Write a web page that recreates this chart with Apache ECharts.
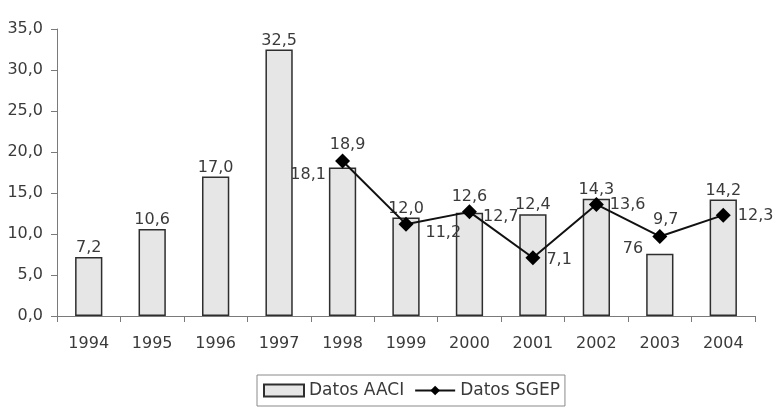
<!DOCTYPE html>
<html><head><meta charset="utf-8">
<script src="https://cdn.jsdelivr.net/npm/echarts@6/dist/echarts.min.js"></script>
<style>html,body{margin:0;padding:0;background:#fff}#c{width:774px;height:410px}</style>
</head><body><div id="c"></div>
<script>
const years = ['1994','1995','1996','1997','1998','1999','2000','2001','2002','2003','2004'];
const aaci = [7.2,10.6,17.0,32.5,18.1,12.0,12.6,12.4,14.3,7.6,14.2];
const aaciLabels = ['7,2','10,6','17,0','32,5','18,1','12,0','12,6','12,4','14,3','76','14,2'];
const sgep = [null,null,null,null,18.9,11.2,12.7,7.1,13.6,9.7,12.3];
const yMin = 0, yMax = 35, yStep = 5;

const FONT = 'DejaVu Sans';
const TXT = '#3a3a3a';
const fmt = v => v.toFixed(1).replace('.', ',');

// label placement tweaks (styles, not data)
const barLabelCfg = {
  4: {position: [-3, 7], align: 'right', verticalAlign: 'middle'},
  6: {distance: 8},
  9: {position: [-3, -5], align: 'right', verticalAlign: 'middle'}
};
const lineLabelCfg = {
  4: {position: 'top', distance: 1, offset: [5, 0]},
  5: {position: 'right', distance: 12, offset: [0, 9]},
  6: {position: 'right', distance: 6, offset: [0, 5]},
  7: {position: 'right', distance: 6, offset: [0, 2]},
  8: {position: 'right', distance: 6, offset: [0, 0]},
  9: {position: 'top', distance: 1, offset: [6, 0]},
  10: {position: 'right', distance: 7, offset: [0, 1]}
};

const barData = aaci.map((v, i) => {
  const o = {value: v};
  if (barLabelCfg[i]) o.label = barLabelCfg[i];
  return o;
});
const lineData = sgep.map((v, i) => {
  const o = {value: v};
  if (lineLabelCfg[i]) o.label = lineLabelCfg[i];
  return o;
});

const chart = echarts.init(document.getElementById('c'), null, {renderer: 'canvas'});
chart.setOption({
  animation: false,
  backgroundColor: '#fff',
  textStyle: {fontFamily: FONT, color: TXT},
  grid: {left: 57, right: 19, top: 29, bottom: 94, containLabel: false},
  legend: {
    top: 375, left: 257,
    data: [{name: 'Datos AACI', icon: 'rect'}, {name: 'Datos SGEP'}],
    borderColor: '#8a8a8a', borderWidth: 1, borderRadius: 0,
    padding: [7, 5, 7, 6],
    itemGap: 10, itemWidth: 40, itemHeight: 12,
    textStyle: {fontFamily: FONT, fontSize: 17, color: TXT}
  },
  xAxis: {
    type: 'category', data: years, boundaryGap: true,
    axisLine: {lineStyle: {color: '#7a7a7a', width: 1}},
    axisTick: {show: true, length: 6, lineStyle: {color: '#7a7a7a'}},
    axisLabel: {fontFamily: FONT, fontSize: 16, color: TXT, margin: 20}
  },
  yAxis: {
    type: 'value', min: yMin, max: yMax, interval: yStep,
    axisLine: {show: true, lineStyle: {color: '#7a7a7a', width: 1}},
    axisTick: {show: true, length: 6, lineStyle: {color: '#7a7a7a'}},
    splitLine: {show: false},
    axisLabel: {fontFamily: FONT, fontSize: 16, color: TXT, margin: 14, formatter: v => fmt(v)}
  },
  series: [
    {
      name: 'Datos AACI', type: 'bar', data: barData, barWidth: '43%',
      itemStyle: {color: '#e6e6e6', borderColor: '#2e2e2e', borderWidth: 1.5},
      label: {
        show: true, position: 'top', distance: 1,
        fontFamily: FONT, fontSize: 16, color: TXT,
        formatter: p => aaciLabels[p.dataIndex]
      }
    },
    {
      name: 'Datos SGEP', type: 'line', data: lineData,
      symbol: 'diamond', symbolSize: 15,
      lineStyle: {color: '#111', width: 2},
      itemStyle: {color: '#000'},
      label: {
        show: true, fontFamily: FONT, fontSize: 16, color: TXT,
        formatter: p => fmt(p.value)
      }
    }
  ]
});
</script></body></html>
